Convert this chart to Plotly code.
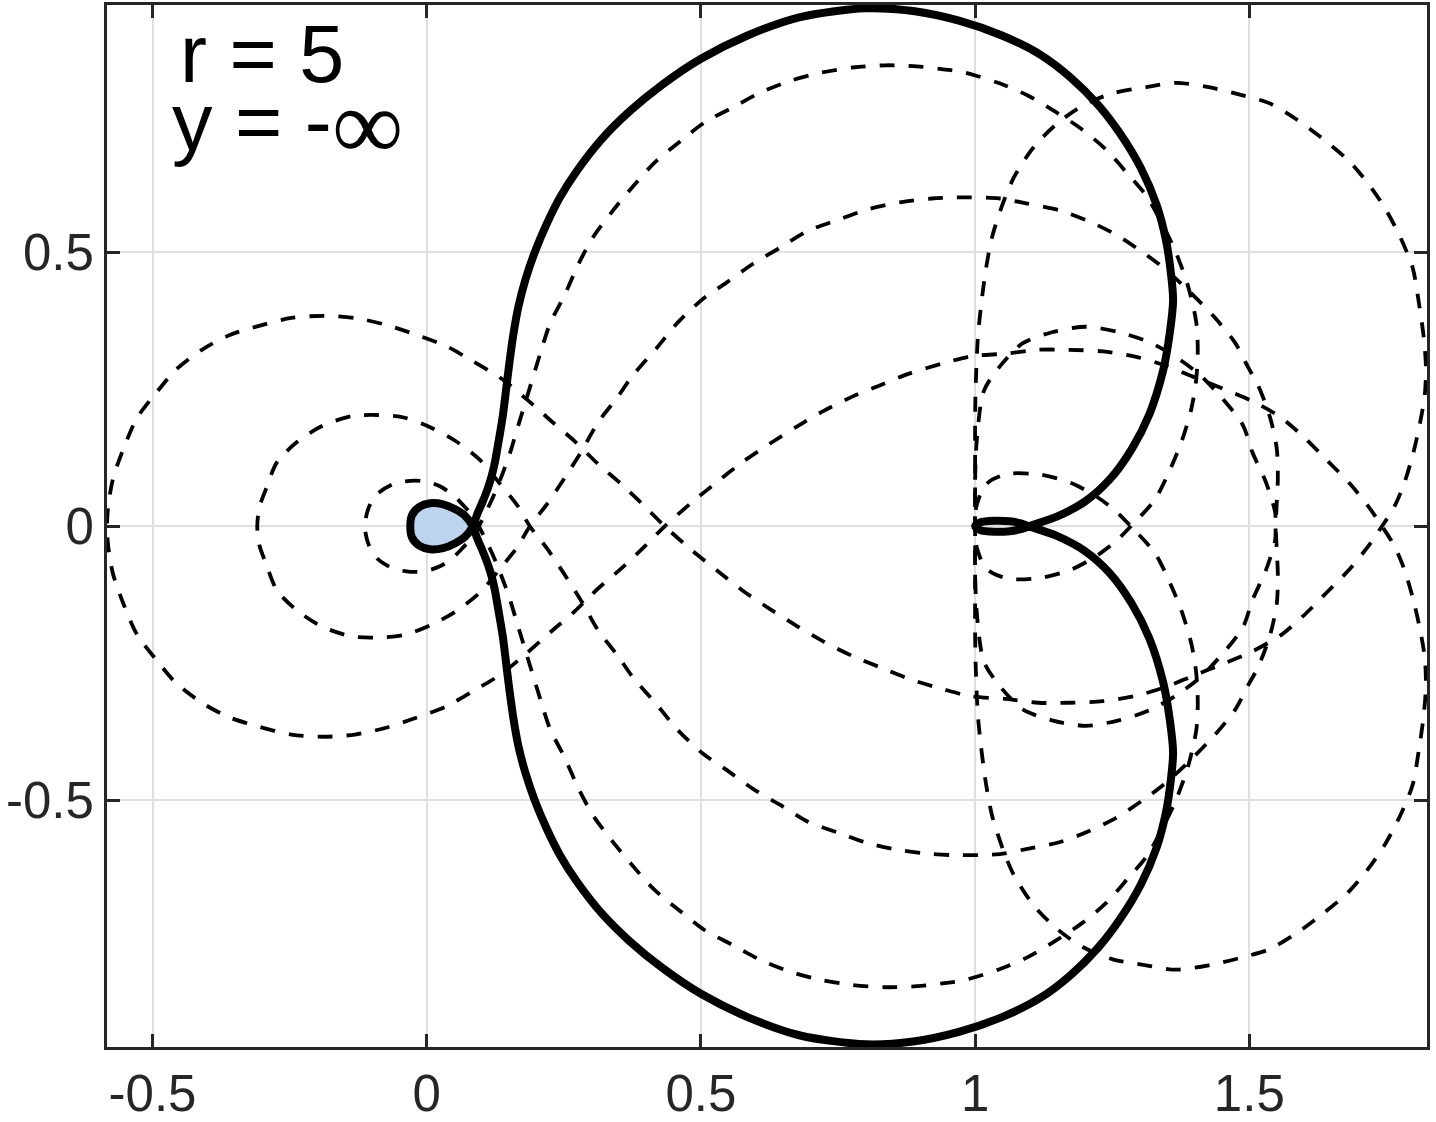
import plotly.graph_objects as go

# ---------------- axis ticks ----------------
X_TICKS = [-0.5, 0, 0.5, 1, 1.5]
X_TICK_TEXT = ["-0.5", "0", "0.5", "1", "1.5"]
Y_TICKS = [-0.5, 0, 0.5]
Y_TICK_TEXT = ["-0.5", "0", "0.5"]
X_RANGE = [-0.583, 1.824]
Y_RANGE = [-0.950, 0.951]

LABEL_R = "r = 5"
LABEL_Y = "y = -"
LABEL_INF = "\u221e"

# ---------------- outer dashed curve (L1) ----------------
L1_R_UP_X = [1.000, 1.000, 1.000, 1.001, 1.005, 1.011, 1.020, 1.031, 1.051, 1.071, 1.107, 1.151, 1.197, 1.251, 1.312,
             1.366, 1.426, 1.481, 1.536, 1.585, 1.630, 1.680, 1.716, 1.747, 1.775, 1.798, 1.809, 1.818, 1.822, 1.820,
             1.811, 1.798, 1.782, 1.764, 1.742]
L1_R_UP_Y = [0.000, 0.103, 0.194, 0.254, 0.344, 0.404, 0.471, 0.528, 0.590, 0.637, 0.692, 0.736, 0.768, 0.790, 0.801,
             0.809, 0.801, 0.788, 0.772, 0.743, 0.710, 0.668, 0.626, 0.581, 0.528, 0.471, 0.409, 0.345, 0.291, 0.240,
             0.187, 0.130, 0.077, 0.035, 0.000]
L1_MID_LOW_X = [1.742, 1.718, 1.684, 1.643, 1.599, 1.557, 1.506, 1.452, 1.397, 1.348, 1.290, 1.233, 1.171, 1.115,
                1.056, 0.992, 0.941, 0.881, 0.826, 0.777, 0.723, 0.675, 0.626, 0.577, 0.531, 0.485, 0.434]
L1_MID_LOW_Y = [0.000, -0.035, -0.077, -0.119, -0.163, -0.199, -0.228, -0.251, -0.273, -0.293, -0.310, -0.319, -0.322,
                -0.322, -0.315, -0.310, -0.297, -0.279, -0.257, -0.237, -0.210, -0.182, -0.151, -0.118, -0.082,
                -0.045, 0.000]
L1_LEFT_UP_X = [0.434, 0.398, 0.356, 0.312, 0.270, 0.227, 0.183, 0.134, 0.084, 0.037, -0.018, -0.076, -0.131, -0.189,
                -0.247, -0.304, -0.359, -0.410, -0.458, -0.492, -0.528, -0.552, -0.572, -0.581, -0.583]
L1_LEFT_UP_Y = [0.000, 0.036, 0.076, 0.114, 0.155, 0.192, 0.231, 0.271, 0.301, 0.328, 0.349, 0.368, 0.380, 0.384,
                0.380, 0.366, 0.349, 0.322, 0.285, 0.245, 0.198, 0.144, 0.087, 0.035, 0.000]
L1_LEFT_LOW_X = [-0.583, -0.581, -0.572, -0.552, -0.528, -0.492, -0.458, -0.410, -0.359, -0.304, -0.247, -0.189,
                 -0.131, -0.076, -0.018, 0.037, 0.084, 0.134, 0.183, 0.227, 0.270, 0.312, 0.356, 0.398, 0.434]
L1_LEFT_LOW_Y = [0.000, -0.035, -0.087, -0.144, -0.198, -0.245, -0.285, -0.322, -0.349, -0.366, -0.380, -0.384,
                 -0.380, -0.368, -0.349, -0.328, -0.301, -0.271, -0.231, -0.192, -0.155, -0.114, -0.076, -0.036, 0.000]
L1_MID_UP_X = [0.434, 0.485, 0.531, 0.577, 0.626, 0.675, 0.723, 0.777, 0.826, 0.881, 0.941, 0.992, 1.056, 1.115,
               1.171, 1.233, 1.290, 1.348, 1.397, 1.452, 1.506, 1.557, 1.599, 1.643, 1.684, 1.718, 1.742]
L1_MID_UP_Y = [0.000, 0.045, 0.082, 0.118, 0.151, 0.182, 0.210, 0.237, 0.257, 0.279, 0.297, 0.310, 0.315, 0.322,
               0.322, 0.319, 0.310, 0.293, 0.273, 0.251, 0.228, 0.199, 0.163, 0.119, 0.077, 0.035, 0.000]
L1_R_LOW_X = [1.742, 1.764, 1.782, 1.798, 1.811, 1.820, 1.822, 1.818, 1.809, 1.798, 1.775, 1.747, 1.716, 1.680, 1.630,
              1.585, 1.536, 1.481, 1.426, 1.366, 1.312, 1.251, 1.197, 1.151, 1.107, 1.071, 1.051, 1.031, 1.020, 1.011,
              1.005, 1.001, 1.000, 1.000, 1.000]
L1_R_LOW_Y = [0.000, -0.035, -0.077, -0.130, -0.187, -0.240, -0.291, -0.345, -0.409, -0.471, -0.528, -0.581, -0.626,
              -0.668, -0.710, -0.743, -0.772, -0.788, -0.801, -0.809, -0.801, -0.790, -0.768, -0.736, -0.692, -0.637,
              -0.590, -0.528, -0.471, -0.404, -0.344, -0.254, -0.194, -0.103, 0.000]

# ---------------- middle dashed curve (L2) ----------------
L2_P_UP_X = [1.000, 1.000, 1.003, 1.016, 1.047, 1.087, 1.140, 1.202, 1.262, 1.317, 1.366, 1.410, 1.450, 1.488, 1.506,
             1.530, 1.547, 1.548]
L2_P_UP_Y = [0.000, 0.085, 0.157, 0.247, 0.294, 0.334, 0.354, 0.364, 0.354, 0.336, 0.309, 0.276, 0.234, 0.185, 0.134,
             0.081, 0.026, 0.000]
L2_MID_LOW_X = [1.548, 1.550, 1.552, 1.550, 1.538, 1.516, 1.499, 1.474, 1.435, 1.384, 1.343, 1.304, 1.257, 1.208,
                1.155, 1.093, 1.045, 0.967, 0.921, 0.863, 0.804, 0.750, 0.695, 0.644, 0.595, 0.546, 0.504, 0.458,
                0.420, 0.374, 0.349, 0.312, 0.283, 0.252, 0.219, 0.188]
L2_MID_LOW_Y = [0.000, -0.043, -0.089, -0.142, -0.198, -0.257, -0.288, -0.335, -0.383, -0.435, -0.472, -0.501, -0.532,
                -0.556, -0.576, -0.589, -0.598, -0.600, -0.598, -0.591, -0.578, -0.559, -0.539, -0.508, -0.479,
                -0.444, -0.415, -0.372, -0.326, -0.273, -0.237, -0.189, -0.138, -0.089, -0.040, 0.000]
L2_LEFT_UP_X = [0.188, 0.166, 0.134, 0.097, 0.052, 0.010, -0.040, -0.089, -0.136, -0.191, -0.236, -0.273, -0.293,
                -0.305, -0.309]
L2_LEFT_UP_Y = [0.000, 0.037, 0.077, 0.121, 0.156, 0.179, 0.198, 0.203, 0.201, 0.183, 0.154, 0.117, 0.068, 0.035,
                0.000]
L2_LEFT_LOW_X = [-0.309, -0.305, -0.293, -0.273, -0.236, -0.191, -0.136, -0.089, -0.040, 0.010, 0.052, 0.097, 0.134,
                 0.166, 0.188]
L2_LEFT_LOW_Y = [0.000, -0.035, -0.068, -0.117, -0.154, -0.183, -0.201, -0.203, -0.198, -0.179, -0.156, -0.121,
                 -0.077, -0.037, 0.000]
L2_MID_UP_X = [0.188, 0.219, 0.252, 0.283, 0.312, 0.349, 0.374, 0.420, 0.458, 0.504, 0.546, 0.595, 0.644, 0.695,
               0.750, 0.804, 0.863, 0.921, 0.967, 1.045, 1.093, 1.155, 1.208, 1.257, 1.304, 1.343, 1.384, 1.435, 1.474,
               1.499, 1.516, 1.538, 1.550, 1.552, 1.550, 1.548]
L2_MID_UP_Y = [0.000, 0.040, 0.089, 0.138, 0.189, 0.237, 0.273, 0.326, 0.372, 0.415, 0.444, 0.479, 0.508, 0.539,
               0.559, 0.578, 0.591, 0.598, 0.600, 0.598, 0.589, 0.576, 0.556, 0.532, 0.501, 0.472, 0.435, 0.383, 0.335,
               0.288, 0.257, 0.198, 0.142, 0.089, 0.043, 0.000]
L2_P_LOW_X = [1.548, 1.547, 1.530, 1.506, 1.488, 1.450, 1.410, 1.366, 1.317, 1.262, 1.202, 1.140, 1.087, 1.047, 1.016,
              1.003, 1.000, 1.000]
L2_P_LOW_Y = [0.000, -0.026, -0.081, -0.134, -0.185, -0.234, -0.276, -0.309, -0.336, -0.354, -0.364, -0.354, -0.334,
              -0.294, -0.247, -0.157, -0.085, 0.000]

# ---------------- inner dashed curve (L3) ----------------
L3_E_UP_X = [1.000, 1.001, 1.009, 1.016, 1.031, 1.063, 1.120, 1.175, 1.220, 1.256, 1.284]
L3_E_UP_Y = [0.000, 0.030, 0.057, 0.072, 0.085, 0.096, 0.094, 0.079, 0.055, 0.028, 0.000]
L3_MID_LOW_X = [1.284, 1.328, 1.357, 1.377, 1.394, 1.403, 1.406, 1.403, 1.388, 1.366, 1.348, 1.313, 1.279, 1.239,
                1.195, 1.147, 1.096, 1.042, 0.980, 0.956, 0.894, 0.837, 0.777, 0.721, 0.664, 0.608, 0.558, 0.507,
                0.462, 0.416, 0.376, 0.338, 0.303, 0.276, 0.252, 0.225, 0.207, 0.188, 0.174, 0.163, 0.152, 0.139,
                0.126, 0.112, 0.095]
L3_MID_LOW_Y = [0.000, -0.049, -0.107, -0.156, -0.213, -0.266, -0.324, -0.374, -0.439, -0.500, -0.538, -0.602, -0.642,
                -0.687, -0.724, -0.756, -0.786, -0.809, -0.828, -0.832, -0.839, -0.841, -0.837, -0.828, -0.813,
                -0.791, -0.764, -0.737, -0.702, -0.664, -0.620, -0.574, -0.527, -0.477, -0.423, -0.370, -0.315,
                -0.253, -0.207, -0.171, -0.134, -0.098, -0.065, -0.034, 0.000]
L3_LEFT_UP_X = [0.095, 0.084, 0.066, 0.048, 0.024, -0.003, -0.030, -0.061, -0.089, -0.105, -0.113]
L3_LEFT_UP_Y = [0.000, 0.019, 0.039, 0.057, 0.073, 0.082, 0.083, 0.077, 0.060, 0.036, 0.000]
L3_LEFT_LOW_X = [-0.113, -0.105, -0.089, -0.061, -0.030, -0.003, 0.024, 0.048, 0.066, 0.084, 0.095]
L3_LEFT_LOW_Y = [0.000, -0.036, -0.060, -0.077, -0.083, -0.082, -0.073, -0.057, -0.039, -0.019, 0.000]
L3_MID_UP_X = [0.095, 0.112, 0.126, 0.139, 0.152, 0.163, 0.174, 0.188, 0.207, 0.225, 0.252, 0.276, 0.303, 0.338,
               0.376, 0.416, 0.462, 0.507, 0.558, 0.608, 0.664, 0.721, 0.777, 0.837, 0.894, 0.956, 0.980, 1.042,
               1.096, 1.147, 1.195, 1.239, 1.279, 1.313, 1.348, 1.366, 1.388, 1.403, 1.406, 1.403, 1.394, 1.377,
               1.357, 1.328, 1.284]
L3_MID_UP_Y = [0.000, 0.034, 0.065, 0.098, 0.134, 0.171, 0.207, 0.253, 0.315, 0.370, 0.423, 0.477, 0.527, 0.574,
               0.620, 0.664, 0.702, 0.737, 0.764, 0.791, 0.813, 0.828, 0.837, 0.841, 0.839, 0.832, 0.828, 0.809,
               0.786, 0.756, 0.724, 0.687, 0.642, 0.602, 0.538, 0.500, 0.439, 0.374, 0.324, 0.266, 0.213, 0.156,
               0.107, 0.049, 0.000]
L3_E_LOW_X = [1.284, 1.256, 1.220, 1.175, 1.120, 1.063, 1.031, 1.016, 1.009, 1.001, 1.000]
L3_E_LOW_Y = [0.000, -0.028, -0.055, -0.079, -0.094, -0.096, -0.085, -0.072, -0.057, -0.030, 0.000]

# ---------------- solid curve (S) ----------------
S_LENS_LOW_X = [1.000, 1.009, 1.036, 1.063, 1.085, 1.098]
S_LENS_LOW_Y = [0.000, -0.007, -0.010, -0.009, -0.005, 0.000]
S_UP_X = [1.098, 1.150, 1.200, 1.245, 1.285, 1.318, 1.343, 1.355, 1.361, 1.357, 1.348, 1.331, 1.302, 1.264, 1.225,
          1.175, 1.118, 1.050, 0.972, 0.887, 0.800, 0.681, 0.584, 0.500, 0.430, 0.370, 0.318, 0.275, 0.243, 0.218,
          0.197, 0.180, 0.167, 0.158, 0.151, 0.147, 0.143, 0.139, 0.134, 0.129, 0.124, 0.118, 0.111, 0.102, 0.092,
          0.084]
S_UP_Y = [0.000, 0.018, 0.045, 0.085, 0.140, 0.205, 0.285, 0.353, 0.413, 0.462, 0.522, 0.586, 0.654, 0.717, 0.768,
          0.818, 0.861, 0.895, 0.922, 0.940, 0.945, 0.929, 0.895, 0.853, 0.806, 0.757, 0.705, 0.650, 0.600, 0.550,
          0.500, 0.450, 0.400, 0.350, 0.300, 0.268, 0.235, 0.203, 0.172, 0.143, 0.115, 0.090, 0.068, 0.045, 0.022,
          0.000]
S_BLUE_X = [0.084, 0.070, 0.052, 0.030, 0.006, -0.014, -0.027, -0.030, -0.027, -0.014, 0.006, 0.030, 0.052, 0.070,
            0.084]
S_BLUE_Y = [0.000, -0.019, -0.031, -0.040, -0.042, -0.035, -0.020, 0.000, 0.020, 0.035, 0.042, 0.040, 0.031, 0.019,
            0.000]
S_LOW_X = [0.084, 0.092, 0.102, 0.111, 0.118, 0.124, 0.129, 0.134, 0.139, 0.143, 0.147, 0.151, 0.158, 0.167, 0.180,
           0.197, 0.218, 0.243, 0.275, 0.318, 0.370, 0.430, 0.500, 0.584, 0.681, 0.800, 0.887, 0.972, 1.050, 1.118,
           1.175, 1.225, 1.264, 1.302, 1.331, 1.348, 1.357, 1.361, 1.355, 1.343, 1.318, 1.285, 1.245, 1.200, 1.150,
           1.098]
S_LOW_Y = [0.000, -0.022, -0.045, -0.068, -0.090, -0.115, -0.143, -0.172, -0.203, -0.235, -0.268, -0.300, -0.350,
           -0.400, -0.450, -0.500, -0.550, -0.600, -0.650, -0.705, -0.757, -0.806, -0.853, -0.895, -0.929, -0.945,
           -0.940, -0.922, -0.895, -0.861, -0.818, -0.768, -0.717, -0.654, -0.586, -0.522, -0.462, -0.413, -0.353,
           -0.285, -0.205, -0.140, -0.085, -0.045, -0.018, 0.000]
S_LENS_UP_X = [1.098, 1.085, 1.063, 1.036, 1.009, 1.000]
S_LENS_UP_Y = [0.000, 0.005, 0.009, 0.010, 0.007, 0.000]


def join(*segments):
    out = []
    for i, seg in enumerate(segments):
        out.extend(seg if i == 0 else seg[1:])
    return out


L1_X = join(L1_R_UP_X, L1_MID_LOW_X, L1_LEFT_UP_X, L1_LEFT_LOW_X, L1_MID_UP_X, L1_R_LOW_X)
L1_Y = join(L1_R_UP_Y, L1_MID_LOW_Y, L1_LEFT_UP_Y, L1_LEFT_LOW_Y, L1_MID_UP_Y, L1_R_LOW_Y)
L2_X = join(L2_P_UP_X, L2_MID_LOW_X, L2_LEFT_UP_X, L2_LEFT_LOW_X, L2_MID_UP_X, L2_P_LOW_X)
L2_Y = join(L2_P_UP_Y, L2_MID_LOW_Y, L2_LEFT_UP_Y, L2_LEFT_LOW_Y, L2_MID_UP_Y, L2_P_LOW_Y)
L3_X = join(L3_E_UP_X, L3_MID_LOW_X, L3_LEFT_UP_X, L3_LEFT_LOW_X, L3_MID_UP_X, L3_E_LOW_X)
L3_Y = join(L3_E_UP_Y, L3_MID_LOW_Y, L3_LEFT_UP_Y, L3_LEFT_LOW_Y, L3_MID_UP_Y, L3_E_LOW_Y)
S_X = join(S_LENS_LOW_X, S_UP_X, S_BLUE_X, S_LOW_X, S_LENS_UP_X)
S_Y = join(S_LENS_LOW_Y, S_UP_Y, S_BLUE_Y, S_LOW_Y, S_LENS_UP_Y)

INK = "#262626"
DASH = "15px,14px"

fig = go.Figure()
fig.add_trace(go.Scatter(x=S_BLUE_X, y=S_BLUE_Y, mode="lines", fill="toself", fillcolor="#bdd4ee",
                         line=dict(width=0, color="rgba(0,0,0,0)", shape="spline"), hoverinfo="skip"))
for cx, cy in [(L1_X, L1_Y), (L2_X, L2_Y), (L3_X, L3_Y)]:
    fig.add_trace(go.Scatter(x=cx, y=cy, mode="lines",
                             line=dict(color="black", width=3.8, dash=DASH, shape="spline", smoothing=0.8),
                             hoverinfo="skip"))
fig.add_trace(go.Scatter(x=S_X, y=S_Y, mode="lines",
                         line=dict(color="black", width=8, shape="spline", smoothing=0.8), hoverinfo="skip"))

axis_common = dict(ticks="inside", ticklen=13, tickwidth=3, tickcolor=INK, showline=True, linewidth=3,
                   linecolor=INK, mirror="ticks", showgrid=True, gridcolor="#dfdfdf", gridwidth=2,
                   zeroline=False, automargin=False,
                   tickfont=dict(family="Liberation Sans, Arial, sans-serif", size=51, color=INK))
fig.update_layout(
    width=1436, height=1122,
    margin=dict(l=107, r=9, t=5, b=75, pad=0),
    paper_bgcolor="white", plot_bgcolor="white", showlegend=False,
    xaxis=dict(range=X_RANGE, tickmode="array", tickvals=X_TICKS, ticktext=X_TICK_TEXT, **axis_common),
    yaxis=dict(range=Y_RANGE, tickmode="array", tickvals=Y_TICKS, ticktext=Y_TICK_TEXT, **axis_common),
)

text_font = dict(family="Liberation Sans, Arial, sans-serif", size=81, color="black")
fig.add_annotation(text=LABEL_R, xref="paper", yref="paper", x=0.0538, y=0.9527, xanchor="left",
                   yanchor="middle", showarrow=False, font=text_font)
fig.add_annotation(text=LABEL_Y, xref="paper", yref="paper", x=0.0477, y=0.8874, xanchor="left",
                   yanchor="middle", showarrow=False, font=text_font)
fig.add_annotation(text=LABEL_INF, xref="paper", yref="paper", x=0.1977, y=0.8839, xanchor="center",
                   yanchor="middle", showarrow=False,
                   font=dict(family="Liberation Serif, Times New Roman, serif", size=100, color="black"))

fig.write_html("out.html", config={"displayModeBar": False},
               post_script="document.body.style.margin='0';document.body.style.padding='0';")
